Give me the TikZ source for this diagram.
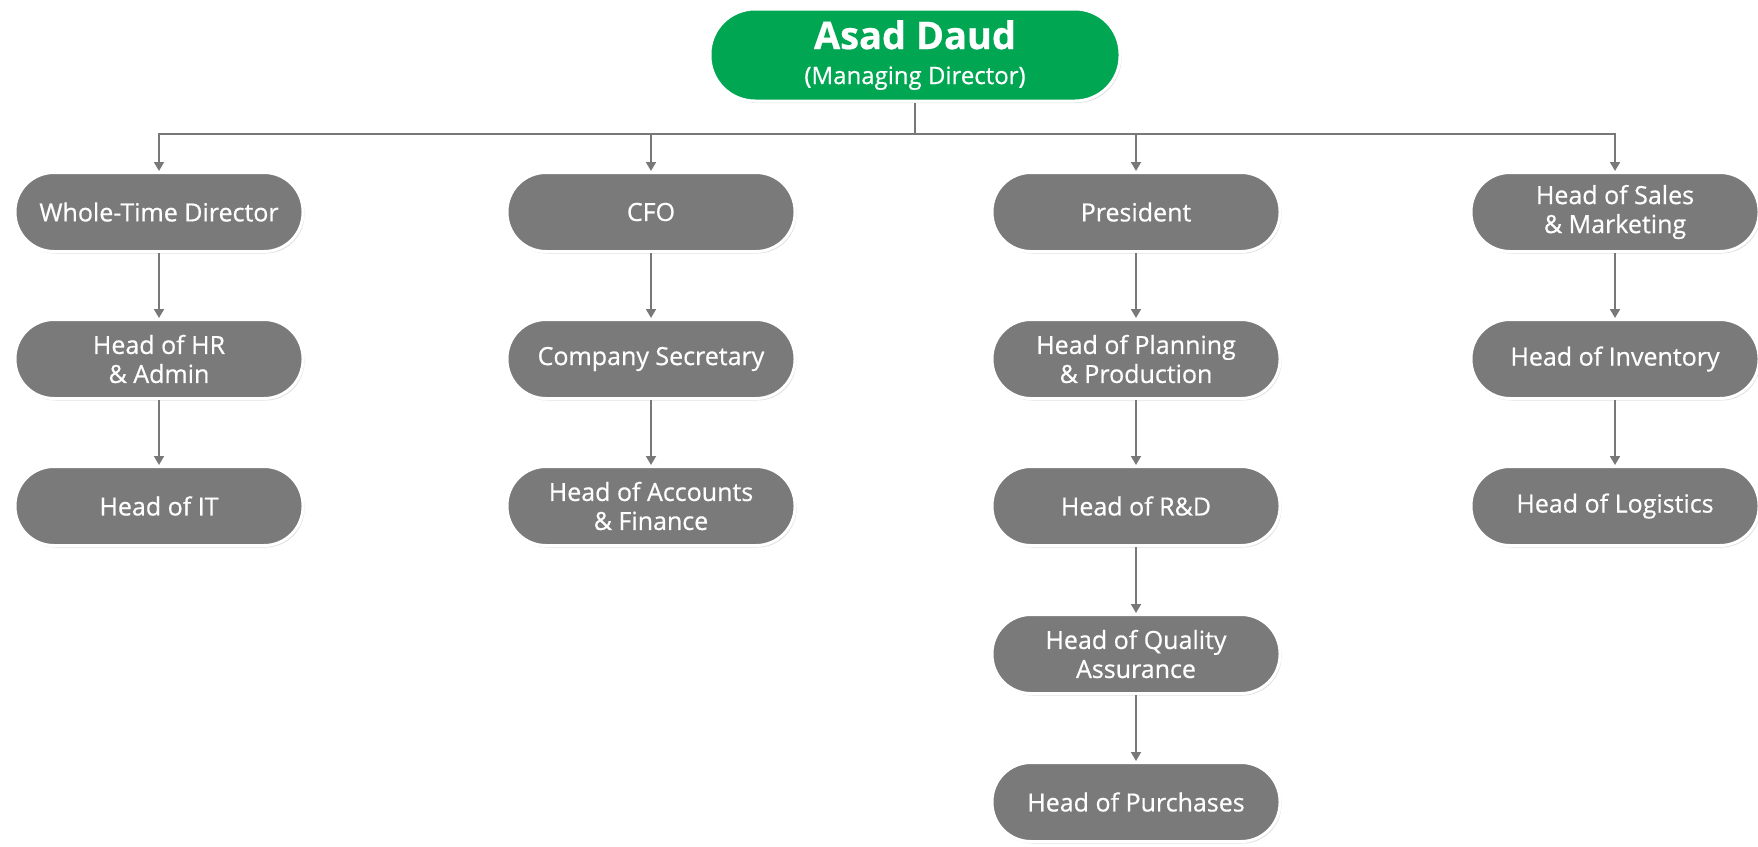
\documentclass[tikz,border=0pt]{standalone}
\usepackage{fontspec}
\setmainfont{Open Sans}
\newfontfamily\boxfont{Open Sans}[FakeBold=0.6]
\usetikzlibrary{arrows.meta,shadows}
\definecolor{mdgreen}{RGB}{0,166,81}
\definecolor{boxgrey}{RGB}{122,122,122}
\definecolor{linegrey}{RGB}{120,120,120}
\begin{document}
\begin{tikzpicture}[x=1pt,y=-1pt,
  box/.style={draw=white, line width=3pt, fill=boxgrey, rounded corners=39pt,
    minimum width=288pt, minimum height=79pt, inner sep=2pt, align=center, text=white,
    font=\boxfont\fontsize{25}{29}\selectfont,
    drop shadow={opacity=0.25, shadow xshift=1.5pt, shadow yshift=-2pt}},
  topbox/.style={box, fill=mdgreen, minimum width=410pt, minimum height=92pt, rounded corners=45pt},
  conn/.style={draw=linegrey, line width=1.8pt, -{Triangle[width=10pt,length=9pt]}},
  plain/.style={draw=linegrey, line width=1.8pt}]
\useasboundingbox (0,0) rectangle (1758,846);
\node[topbox] (md) at (915,55) {{\fontsize{38}{40}\selectfont\bfseries Asad Daud}\\[6pt]{\fontsize{24}{28}\selectfont (Managing Director)}};
% column 1
\node[box] (a1) at (159,212) {Whole-Time Director};
\node[box] (a2) at (159,359) {Head of HR\\\& Admin};
\node[box] (a3) at (159,506) {Head of IT};
% column 2
\node[box] (b1) at (651,212) {CFO};
\node[box] (b2) at (651,359) {Company Secretary};
\node[box] (b3) at (651,506) {Head of Accounts\\\& Finance};
% column 3
\node[box] (c1) at (1136,212) {President};
\node[box] (c2) at (1136,359) {Head of Planning\\\& Production};
\node[box] (c3) at (1136,506) {Head of R\&D};
\node[box] (c4) at (1136,654) {Head of Quality\\Assurance};
\node[box] (c5) at (1136,802) {Head of Purchases};
% column 4
\node[box] (d1) at (1615,212) {Head of Sales\\\& Marketing};
\node[box] (d2) at (1615,359) {Head of Inventory};
\node[box] (d3) at (1615,506) {Head of Logistics};
% bus
\coordinate (bus) at (916,134);
\draw[plain] (md.south) -- (md.south |- bus);
\draw[conn] (md.south |- bus) -| (a1.north);
\draw[conn] (md.south |- bus) -| (b1.north);
\draw[conn] (md.south |- bus) -| (c1.north);
\draw[conn] (md.south |- bus) -| (d1.north);
% verticals
\draw[conn] (a1) -- (a2);
\draw[conn] (a2) -- (a3);
\draw[conn] (b1) -- (b2);
\draw[conn] (b2) -- (b3);
\draw[conn] (c1) -- (c2);
\draw[conn] (c2) -- (c3);
\draw[conn] (c3) -- (c4);
\draw[conn] (c4) -- (c5);
\draw[conn] (d1) -- (d2);
\draw[conn] (d2) -- (d3);
\end{tikzpicture}
\end{document}
